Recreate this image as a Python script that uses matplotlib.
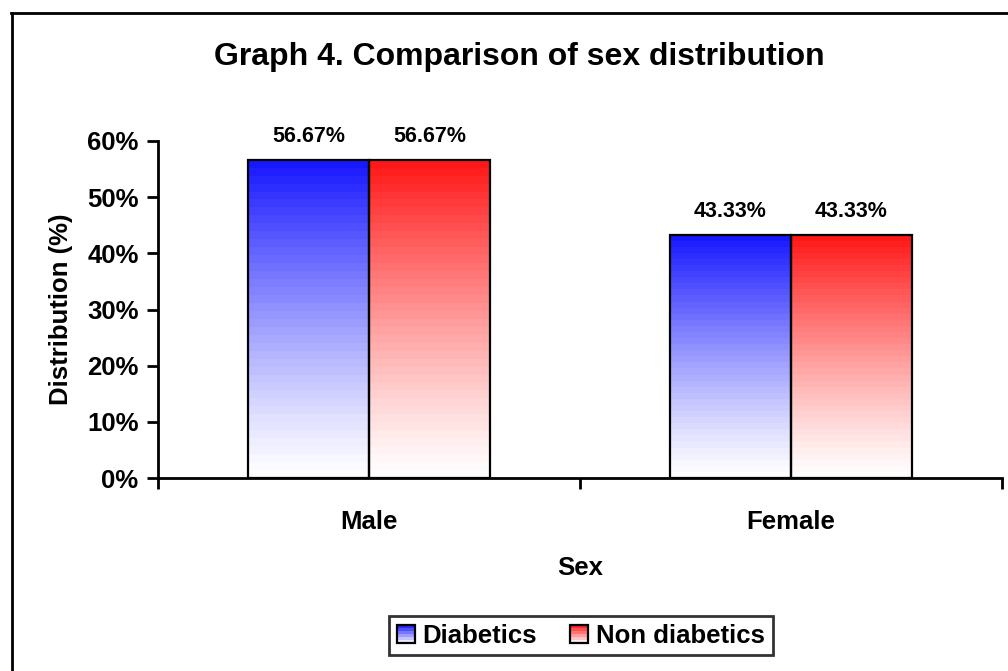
import numpy as np
import matplotlib.pyplot as plt
from matplotlib.patches import Rectangle
from matplotlib.legend_handler import HandlerBase
from matplotlib.lines import Line2D

plt.rcParams['font.family'] = ['Liberation Sans', 'DejaVu Sans']
plt.rcParams['font.weight'] = 'bold'

categories = ['Male', 'Female']
series = ['Diabetics', 'Non diabetics']
diabetics = [56.67, 43.33]
non_diabetics = [56.67, 43.33]
yticks = [0, 10, 20, 30, 40, 50, 60]

top_colors = [(0.08, 0.08, 1.0), (1.0, 0.08, 0.08)]


def shade(c, t):
    # t=1 gives the full colour, t=0 gives white
    return tuple(1 - t * (1 - v) for v in c)


def gradient_bar(ax, x0, w, h, c):
    steps = 40
    for k in range(steps):
        y0 = h * k / steps
        t = (k + 0.5) / steps
        ax.add_patch(Rectangle((x0, y0), w, h / steps * 1.02, facecolor=shade(c, t ** 1.2),
                               edgecolor='none', zorder=2))
    ax.add_patch(Rectangle((x0, 0), w, h, facecolor='none', edgecolor='black',
                           linewidth=1.6, zorder=3))


class GradientHandler(HandlerBase):
    def __init__(self, color):
        super().__init__()
        self.color = color

    def create_artists(self, legend, orig_handle, xdescent, ydescent, width, height, fontsize, trans):
        arts = []
        s = height
        x0 = -xdescent + (width - s) / 2
        y0 = -ydescent
        n = 6
        for k in range(n):
            t = (k + 0.5) / n
            arts.append(Rectangle((x0, y0 + s * k / n), s, s / n, facecolor=shade(self.color, t),
                                  edgecolor='none', transform=trans))
        arts.append(Rectangle((x0, y0), s, s, facecolor='none', edgecolor='black',
                              linewidth=1.6, transform=trans))
        return arts


fig = plt.figure(figsize=(10.08, 6.71), dpi=100)
W, H = 1008, 671
ax = fig.add_axes([158 / W, 1 - 478 / H, (1002 - 158) / W, (478 - 141) / H])

bw = 0.287
x = np.arange(len(categories)) + 0.5
for i in range(len(categories)):
    gradient_bar(ax, x[i] - bw, bw, diabetics[i], top_colors[0])
    gradient_bar(ax, x[i], bw, non_diabetics[i], top_colors[1])
    ax.text(x[i] - bw / 2, diabetics[i] + 4.1, f'{diabetics[i]:.2f}%', ha='center', va='center',
            fontsize=15.5, fontweight='bold')
    ax.text(x[i] + bw / 2, non_diabetics[i] + 4.1, f'{non_diabetics[i]:.2f}%', ha='center', va='center',
            fontsize=15.5, fontweight='bold')

ax.set_xlim(0, 2)
ax.set_ylim(0, 60)
ax.set_yticks(yticks)
ax.set_yticklabels([f'{v}%' for v in yticks], fontsize=18.5, fontweight='bold')
ax.set_xticks([0, 1, 2])
ax.set_xticklabels([])
ax.set_xticks(x, minor=True)
ax.set_xticklabels(categories, minor=True, fontsize=18.5, fontweight='bold')
ax.tick_params(axis='x', which='minor', length=0, pad=23)
ax.tick_params(axis='both', which='major', length=8, width=2, direction='out', pad=6)
for s in ['top', 'right']:
    ax.spines[s].set_visible(False)
for s in ['left', 'bottom']:
    ax.spines[s].set_linewidth(2)
ax.set_ylabel('Distribution (%)', fontsize=18.5, fontweight='bold', labelpad=10)
ax.set_xlabel('Sex', fontsize=18.5, fontweight='bold', labelpad=16)

fig.text(519 / W, 1 - 57 / H, 'Graph 4. Comparison of sex distribution', ha='center', va='center',
         fontsize=23, fontweight='bold')

# chart area border (continues past the right and bottom edges)
fig.add_artist(Line2D([11.5 / W, 11.5 / W], [1 - 13 / H, 0], transform=fig.transFigure,
                      color='black', linewidth=2))
fig.add_artist(Line2D([11 / W, 1], [1 - 13 / H, 1 - 13 / H], transform=fig.transFigure,
                      color='black', linewidth=2))

h1 = Rectangle((0, 0), 1, 1)
h2 = Rectangle((0, 0), 1, 1)
leg = fig.legend([h1, h2], series, loc='upper left', bbox_to_anchor=(389 / W, 1 - 616 / H),
                 ncol=2, fancybox=False, frameon=True, edgecolor='black',
                 prop={'weight': 'bold', 'size': 18.5}, handlelength=0.7, handleheight=0.7,
                 handletextpad=0.3, columnspacing=1.3, borderpad=0.3, borderaxespad=0,
                 handler_map={h1: GradientHandler(top_colors[0]), h2: GradientHandler(top_colors[1])})
leg.get_frame().set_linewidth(2)

fig.savefig('out.png', dpi=100)
